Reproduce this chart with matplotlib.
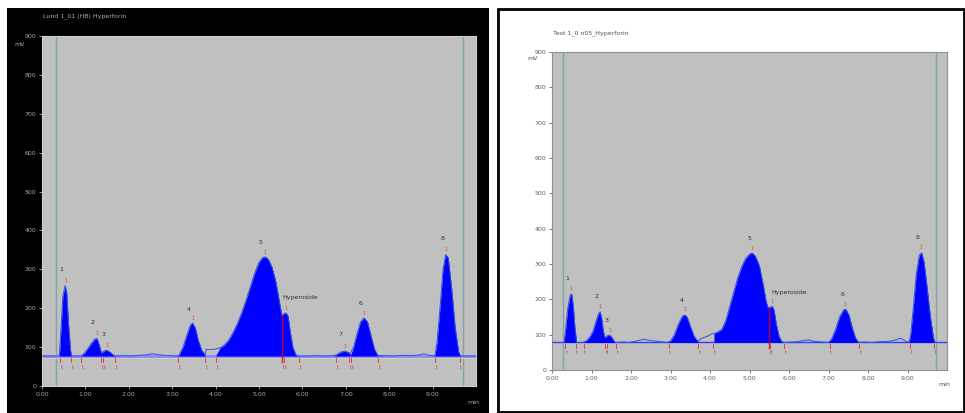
import matplotlib
matplotlib.use("Agg")
import matplotlib.pyplot as plt
from matplotlib.patches import Rectangle

# ---------------- data ----------------
titles = ["Lund 1_01 (HB) Hyperforin", "Test 1_0 n05_Hyperforin"]
y_ticks = [0, 100, 200, 300, 400, 500, 600, 700, 800, 900]
x_ticks = [0, 1, 2, 3, 4, 5, 6, 7, 8, 9]
x_tick_labels = ["0.00", "1.00", "2.00", "3.00", "4.00", "5.00", "6.00", "7.00", "8.00", "9.00"]

# left chromatogram trace
left_x = [0.00, 0.40, 0.44, 0.48, 0.53, 0.57, 0.61, 0.66, 0.68,
          0.90, 0.98, 1.06, 1.14, 1.22, 1.27, 1.32, 1.37, 1.43, 1.49, 1.56, 1.64, 1.70,
          1.85, 2.05, 2.25, 2.40, 2.55, 2.65, 2.80, 2.95, 3.10,
          3.15, 3.25, 3.35, 3.42, 3.47, 3.53, 3.60, 3.68, 3.76,
          3.78, 3.90, 4.00,
          4.10, 4.20, 4.30, 4.40, 4.50, 4.60, 4.70, 4.80, 4.90, 5.00, 5.08, 5.15, 5.22,
          5.30, 5.38, 5.45, 5.50, 5.53, 5.57, 5.62, 5.67, 5.72, 5.78, 5.85, 5.90,
          6.10, 6.30, 6.50, 6.70,
          6.78, 6.88, 6.98, 7.06, 7.10,
          7.18, 7.26, 7.34, 7.42, 7.50, 7.58, 7.66, 7.74,
          7.90, 8.10, 8.30, 8.50, 8.70, 8.80, 8.90, 9.05,
          9.10, 9.17, 9.24, 9.30, 9.36, 9.44, 9.52, 9.60, 9.64, 10.0]
left_y = [77, 77, 150, 230, 258, 240, 160, 90, 77,
          77, 85, 97, 110, 121, 122, 105, 85, 90, 92, 88, 80, 77,
          78, 77, 79, 80, 83, 81, 79, 78, 77,
          78, 100, 135, 157, 162, 150, 118, 92, 80,
          94, 94, 95,
          98, 105, 118, 137, 160, 188, 220, 255, 290, 318, 330, 332, 325,
          305, 272, 230, 198, 180, 186, 188, 180, 140, 100, 80, 77,
          77, 78, 77, 78,
          80, 87, 90, 86, 84,
          100, 135, 165, 175, 165, 130, 95, 78,
          78, 77, 79, 78, 80, 83, 79, 77,
          110, 200, 300, 338, 330, 250, 150, 88, 77, 77]
left_baseline = 77
left_peak_start = [0.40, 0.90, 3.14, 4.02, 6.75, 7.14, 9.05]
left_peak_end = [0.68, 1.70, 3.77, 5.90, 7.10, 7.75, 9.64]
left_labels = ["1", "2", "3", "4", "5", "Hyperoside", "7", "6", "8"]
left_label_x = [0.40, 1.11, 1.37, 3.33, 4.98, 5.55, 6.83, 7.29, 9.19]
left_label_y = [294, 157, 125, 191, 362, 221, 125, 206, 374]
left_apex_x = [0.55, 1.26, 1.49, 3.47, 5.13, 5.62, 6.98, 7.42, 9.31]
left_apex_y = [262, 124, 94, 164, 334, 190, 92, 177, 340]
left_marker_x = [0.41, 0.66, 0.91, 1.37, 1.41, 1.68, 3.14, 3.76, 4.02, 5.53, 5.58, 5.93, 6.77, 7.08, 7.12, 7.74, 9.06, 9.62]
left_split_x = 5.53
left_split_y = 182
left_limits = [0.32, 9.69]

# right chromatogram trace
right_x = [0.00, 0.30, 0.34, 0.40, 0.46, 0.50, 0.54, 0.58, 0.62, 0.64,
           0.78, 0.86, 0.95, 1.04, 1.12, 1.18, 1.22, 1.26, 1.30, 1.34, 1.40, 1.46, 1.52, 1.58, 1.62,
           1.80, 1.95, 2.10, 2.25, 2.32, 2.45, 2.60, 2.75, 2.92,
           3.00, 3.10, 3.20, 3.30, 3.36, 3.42, 3.50, 3.60, 3.70,
           3.75, 3.85, 3.95, 4.05, 4.10,
           4.20, 4.30, 4.40, 4.50, 4.60, 4.70, 4.80, 4.90, 5.00, 5.07, 5.15, 5.25,
           5.35, 5.42, 5.47, 5.52, 5.58, 5.62, 5.68, 5.75, 5.82, 5.88,
           6.05, 6.20, 6.40, 6.50, 6.65, 6.85, 7.00,
           7.08, 7.18, 7.28, 7.38, 7.44, 7.52, 7.60, 7.68, 7.76,
           7.90, 8.10, 8.30, 8.50, 8.70, 8.82, 8.95, 9.04,
           9.08, 9.15, 9.22, 9.30, 9.36, 9.42, 9.50, 9.58, 9.66, 9.70, 10.0]
right_y = [78, 78, 110, 175, 212, 215, 180, 120, 80, 78,
           78, 82, 92, 110, 140, 160, 165, 145, 110, 92, 97, 99, 92, 80, 78,
           79, 78, 81, 85, 87, 84, 82, 80, 78,
           82, 100, 130, 152, 156, 150, 125, 95, 80,
           88, 92, 96, 103, 103,
           108, 115, 140, 180, 220, 260, 292, 315, 328, 331, 322, 295,
           240, 195, 176, 178, 180, 170, 130, 95, 80, 78,
           79, 80, 84, 85, 81, 79, 78,
           88, 115, 150, 170, 172, 155, 120, 92, 78,
           79, 78, 80, 81, 85, 90, 82, 78,
           100, 180, 270, 325, 332, 305, 230, 150, 90, 78, 78]
right_baseline = 78
right_peak_start = [0.32, 0.78, 2.94, 4.08, 7.02, 9.05]
right_peak_end = [0.64, 1.62, 3.70, 5.88, 7.76, 9.70]
right_labels = ["1", "2", "3", "4", "5", "Hyperoside", "6", "8"]
right_label_x = [0.35, 1.08, 1.34, 3.24, 4.95, 5.55, 7.30, 9.20]
right_label_y = [252, 200, 134, 189, 366, 212, 207, 368]
right_apex_x = [0.49, 1.21, 1.46, 3.36, 5.07, 5.58, 7.42, 9.35]
right_apex_y = [219, 168, 102, 159, 334, 183, 175, 336]
right_marker_x = [0.33, 0.60, 0.80, 1.34, 1.38, 1.62, 2.95, 3.70, 4.08, 5.49, 5.53, 5.88, 7.03, 7.78, 9.06, 9.68]
right_split_x = 5.49
right_split_y = 176
right_limits = [0.28, 9.72]

# ---------------- figure ----------------
W, H = 965, 413
fig = plt.figure(figsize=(W / 100, H / 100), dpi=100)
fig.patch.set_facecolor("white")

# left black panel
fig.add_artist(Rectangle((7 / W, 0), (489 - 7) / W, (H - 8) / H,
                         transform=fig.transFigure, facecolor="black",
                         edgecolor="none", zorder=0))
# right framed panel
fig.add_artist(Rectangle((498 / W, 1 / H), (964 - 498) / W, (H - 10) / H,
                         transform=fig.transFigure, facecolor="white",
                         edgecolor="black", lw=2.0, zorder=0))


def draw_panel(ax, xs, ys, base, pstart, pend, labels, lx, ly, ax_, ay_,
               markers, split_x, split_y, limits, dark):
    ax.set_facecolor("#c0c0c0")
    ax.set_xlim(0, 10)
    ax.set_ylim(0, 900)
    # fills for integrated peaks
    for s, e in zip(pstart, pend):
        ax.fill_between(xs, base, ys, where=[(s <= v <= e) for v in xs],
                        color="#0000ff", lw=0, interpolate=True, zorder=3)
    # trace
    ax.plot(xs, ys, color="#3050e0", lw=0.7, zorder=4)
    # baseline line
    if dark:
        ax.axhline(base, color="#8c8cff", lw=2.2, zorder=2)
        ax.axhline(base - 6, color="#d8cfa8", lw=0.8, zorder=2)
    else:
        ax.axhline(base, color="#3040ff", lw=1.0, zorder=2)
    # limit lines
    for lim in limits:
        ax.axvline(lim, color="#7fa6a6", lw=1.0, zorder=1)
    # split line
    ax.plot([split_x, split_x], [base - 15, split_y], color="#c00030", lw=1.0, zorder=5)
    # integration markers
    for m in markers:
        ax.plot([m, m], [base - 4, base - 16], color="#e03030", lw=0.6, zorder=5)
        ax.text(m + 0.04, base - 22, "t", color="#e04040", fontsize=3.5,
                ha="center", va="top", zorder=5)
    for x_, y_ in zip(ax_, ay_):
        ax.text(x_, y_ + 4, "1", color="#e04040", fontsize=3.5,
                ha="center", va="bottom", zorder=5)
    for t, x_, y_ in zip(labels, lx, ly):
        ax.text(x_, y_, t, color="#303030", fontsize=4.5, ha="left",
                va="bottom", zorder=6)
    ax.set_xticks(x_ticks)
    ax.set_xticklabels(x_tick_labels)
    ax.set_yticks(y_ticks)
    ax.set_yticklabels([str(v) for v in y_ticks])
    tc = "#a8a8a8" if dark else "#606060"
    sc = "#d0d0d0" if dark else "#909090"
    ax.tick_params(axis="both", labelsize=4.5, colors=tc, length=2, width=0.6, pad=2)
    for sp in ax.spines.values():
        sp.set_color(sc)
        sp.set_linewidth(0.8)


axL = fig.add_axes([42 / W, (H - 386) / H, (476 - 42) / W, (386 - 36) / H])
draw_panel(axL, left_x, left_y, left_baseline, left_peak_start, left_peak_end,
           left_labels, left_label_x, left_label_y, left_apex_x, left_apex_y,
           left_marker_x, left_split_x, left_split_y, left_limits, True)

axR = fig.add_axes([552 / W, (H - 370) / H, (947 - 552) / W, (370 - 52) / H])
draw_panel(axR, right_x, right_y, right_baseline, right_peak_start, right_peak_end,
           right_labels, right_label_x, right_label_y, right_apex_x, right_apex_y,
           right_marker_x, right_split_x, right_split_y, right_limits, False)

# titles and units
fig.text(43 / W, 1 - 16 / H, titles[0], color="#b0b0b0", fontsize=4.5, va="center")
fig.text(553 / W, 1 - 33 / H, titles[1], color="#505050", fontsize=4.5, va="center")
fig.text(20 / W, 1 - 45 / H, "mV", color="#b0b0b0", fontsize=4.5, ha="center", va="center")
fig.text(533 / W, 1 - 59 / H, "mV", color="#505050", fontsize=4.5, ha="center", va="center")
fig.text(473 / W, 1 - 402 / H, "min", color="#b0b0b0", fontsize=4.5, ha="center", va="center")
fig.text(944 / W, 1 - 384 / H, "min", color="#505050", fontsize=4.5, ha="center", va="center")

fig.savefig("out.png", dpi=100, facecolor=fig.get_facecolor())
